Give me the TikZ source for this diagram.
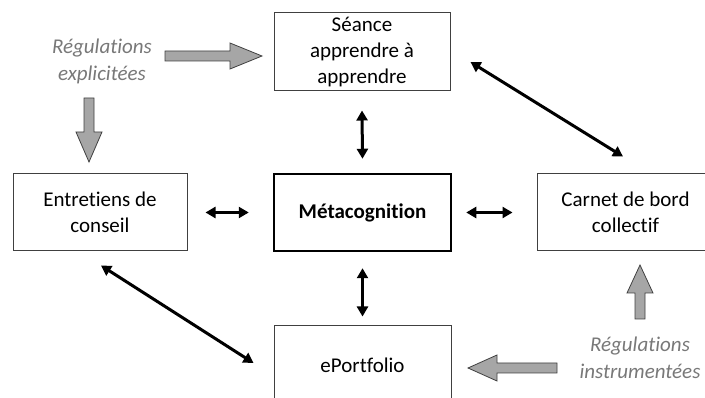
\documentclass[tikz,border=0pt]{standalone}
\usepackage{fontspec}
\setmainfont[Ligatures=NoCommon]{Carlito}
\usetikzlibrary{arrows.meta,calc}
\definecolor{boxline}{RGB}{64,64,64}
\definecolor{labgray}{RGB}{120,120,120}
\definecolor{arrfill}{RGB}{166,166,166}
\begin{document}
\begin{tikzpicture}[x=1pt,y=-1pt,
 box/.style={draw=boxline,line width=1pt,align=center,font=\fontsize{21}{26}\selectfont,inner sep=0pt},
 bar/.style={line width=3pt,{Triangle[length=10pt,width=11pt]}-{Triangle[length=10pt,width=11pt]}},
 lab/.style={text=labgray,font=\fontsize{21}{27}\selectfont\itshape,align=center,inner sep=0pt},
 block/.style={draw=boxline,fill=arrfill,line width=0.8pt,line join=miter}]
\useasboundingbox (0,0) rectangle (705,398);
\clip (0,0) rectangle (705,398);
\node[box,minimum width=176,minimum height=78] (seance) at (362,52) {Séance\\apprendre à\\apprendre};
\node[box,minimum width=174,minimum height=77] (entretiens) at (100,212.5) {Entretiens de\\conseil};
\node[box,draw=black,line width=2.5pt,minimum width=177,minimum height=77,font=\fontsize{21}{26}\selectfont\bfseries] (meta) at (362.5,212.5) {Métacognition};
\node[box,minimum width=177,minimum height=77] (carnet) at (625.5,212.5) {Carnet de bord\\collectif};
\node[box,minimum width=177,minimum height=78] (eport) at (362.5,365) {ePortfolio};
\node[lab] (labexp) at (102,61) {Régulations\\explicitées};
\node[lab] (labins) at (640,358) {Régulations\\instrumentées};
% gray block arrows
\draw[block] (165,51) -- (230,51) -- (230,43) -- (262,56) -- (230,69) -- (230,61) -- (165,61) -- cycle;
\draw[block] (84,98) -- (84,132) -- (76,132) -- (89,162) -- (102,132) -- (94,132) -- (94,98) -- cycle;
\draw[block] (635,319) -- (635,293) -- (627,293) -- (640,265) -- (653,293) -- (645,293) -- (645,319) -- cycle;
\draw[block] (557,363) -- (497,363) -- (497,355) -- (468,368) -- (497,381) -- (497,373) -- (557,373) -- cycle;
% black arrows
\draw[bar] ([yshift=-19pt]seance.south) -- ([yshift=14pt]meta.north);
\draw[bar] ([yshift=-16pt]meta.south) -- ([yshift=9pt]eport.north);
\draw[bar] ([xshift=18pt]entretiens.east) -- ([xshift=-24pt]meta.west);
\draw[bar] ([xshift=14pt]meta.east) -- ([xshift=-24pt]carnet.west);
\draw[bar] ([xshift=20pt,yshift=-10pt]seance.east) -- ([xshift=-2.5pt,yshift=17pt]carnet.north);
\draw[bar] ([xshift=1pt,yshift=-14pt]entretiens.south) -- ([xshift=-20pt,yshift=2pt]eport.west);
\end{tikzpicture}
\end{document}
